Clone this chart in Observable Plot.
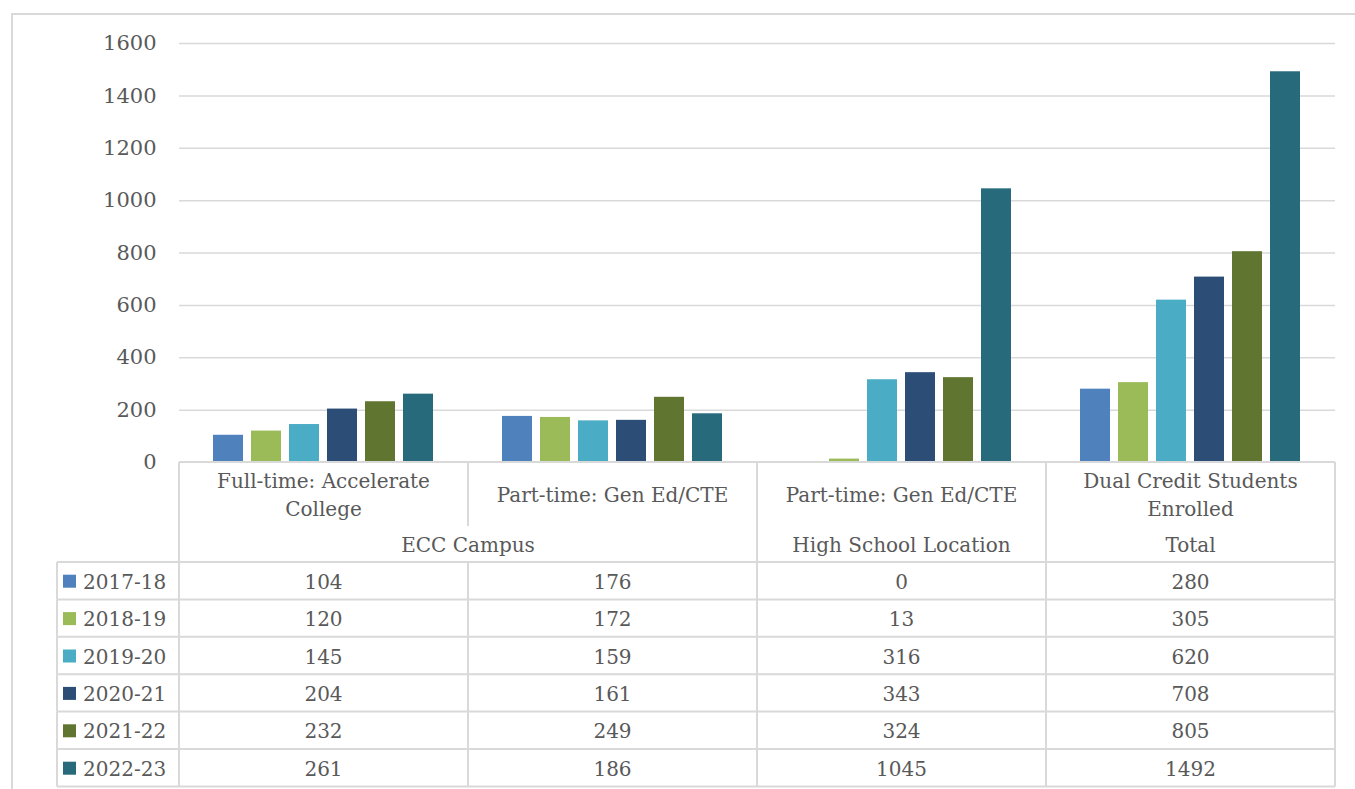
<!DOCTYPE html>
<html><head><meta charset="utf-8">
<script src="https://cdn.jsdelivr.net/npm/d3@7"></script>
<script src="https://cdn.jsdelivr.net/npm/@observablehq/plot@0.6"></script>
<style>
body{margin:0;background:#fff;}
#wrap{position:relative;width:1355px;height:789px;overflow:hidden;font-family:"DejaVu Serif",serif;}
#frame{position:absolute;left:11px;top:13px;width:1400px;height:800px;border-left:2px solid #d9d9d9;border-top:2px solid #d9d9d9;}
#chart{position:absolute;left:0;top:0;}
#table{position:absolute;left:0;top:0;}
</style></head><body>
<div id="wrap"><div id="frame"></div><div id="chart"></div><svg id="table" width="1355" height="789"></svg></div>
<script>
const categoryKeys = ["ecc-ft", "ecc-pt", "hs-pt", "total"];
const categoryLabels = [["Full-time: Accelerate", "College"], ["Part-time: Gen Ed/CTE"], ["Part-time: Gen Ed/CTE"], ["Dual Credit Students", "Enrolled"]];
const groupLabels = ["ECC Campus", "ECC Campus", "High School Location", "Total"];
const years = ["2017-18", "2018-19", "2019-20", "2020-21", "2021-22", "2022-23"];
const colors = ["#4F81BD", "#9BBB59", "#4BACC6", "#2C4D75", "#5F7530", "#276A7C"];
const v2017 = [104, 176, 0, 280];
const v2018 = [120, 172, 13, 305];
const v2019 = [145, 159, 316, 620];
const v2020 = [204, 161, 343, 708];
const v2021 = [232, 249, 324, 805];
const v2022 = [261, 186, 1045, 1492];
const seriesValues = [v2017, v2018, v2019, v2020, v2021, v2022];
const yTicks = [0, 200, 400, 600, 800, 1000, 1200, 1400, 1600];

const rows = [];
years.forEach((s, i) => categoryKeys.forEach((c, j) => rows.push({series: s, category: c, value: seriesValues[i][j]})));

const FONT = "DejaVu Serif";
const TXT = "#595959";
const LINE = "#d9d9d9";

const plot = Plot.plot({
  width: 1355, height: 472, marginTop: 43, marginBottom: 10, marginLeft: 178, marginRight: 19,
  style: {fontFamily: FONT, fontSize: "21px", color: TXT, background: "transparent", overflow: "visible"},
  fx: {domain: categoryKeys, padding: 0, axis: null},
  x: {domain: years, paddingInner: 0.2, paddingOuter: 0.825, axis: null},
  y: {domain: [0, 1600], axis: null, label: null},
  color: {domain: years, range: colors},
  marks: [
    Plot.gridY(yTicks.filter(d => d > 0), {stroke: LINE, strokeOpacity: 1, strokeWidth: 1.5}),
    Plot.barY(rows, {fx: "category", x: "series", y: "value", fill: "series"}),
    Plot.axisY(yTicks, {tickSize: 0, tickPadding: 23, fontSize: 21, fill: TXT, fontFamily: FONT, label: null, tickFormat: d => String(d)})
  ]
});
document.getElementById("chart").appendChild(plot);

// data table under the chart, columns aligned with the fx scale
const fx = plot.scale("fx");
const bw = fx.bandwidth;
const left = categoryKeys.map(k => fx.apply(k));
const x0 = left[0], x1 = left[left.length - 1] + bw;
const legendX = 57;
const top0 = 462, h1 = 526, h2 = 562, rowH = 37.4;

const svg = d3.select("#table");
const lines = svg.append("g").attr("stroke", LINE).attr("stroke-width", 2);
const hline = (y, a, b) => lines.append("line").attr("x1", a).attr("x2", b).attr("y1", y).attr("y2", y);
const vline = (x, a, b) => lines.append("line").attr("x1", x).attr("x2", x).attr("y1", a).attr("y2", b);

hline(top0, x0, x1);
left.forEach(x => vline(x, top0, h1));
vline(x1, top0, h1);
left.forEach((x, i) => { if (i === 0 || groupLabels[i] !== groupLabels[i - 1]) vline(x, h1, h2); });
vline(x1, h1, h2);
hline(h2, legendX, x1);
years.forEach((s, i) => {
  const ya = h2 + i * rowH, yb = ya + rowH;
  hline(yb, legendX, x1);
  vline(legendX, ya, yb);
  vline(x0, ya, yb);
  left.forEach(x => vline(x, ya, yb));
  vline(x1, ya, yb);
});

const text = svg.append("g").attr("font-family", FONT).attr("font-size", 20).attr("fill", TXT)
  .attr("text-anchor", "middle").attr("dominant-baseline", "central");

categoryLabels.forEach((lab, i) => {
  const cx = left[i] + bw / 2;
  const mid = (top0 + h1) / 2 + 1;
  lab.forEach((l, k) => {
    text.append("text").attr("x", cx).attr("y", mid + (k - (lab.length - 1) / 2) * 28).text(l);
  });
});
let i = 0;
while (i < groupLabels.length) {
  let j = i;
  while (j + 1 < groupLabels.length && groupLabels[j + 1] === groupLabels[i]) j++;
  const cx = (left[i] + left[j] + bw) / 2;
  text.append("text").attr("x", cx).attr("y", (h1 + h2) / 2 + 1).text(groupLabels[i]);
  i = j + 1;
}
years.forEach((s, r) => {
  const cy = h2 + r * rowH + rowH / 2 + 1;
  svg.append("rect").attr("x", 63).attr("y", cy - 7).attr("width", 13).attr("height", 13).attr("fill", colors[r]);
  text.append("text").attr("x", 83).attr("y", cy).attr("text-anchor", "start").text(s);
  seriesValues[r].forEach((v, c) => {
    text.append("text").attr("x", left[c] + bw / 2).attr("y", cy).text(v);
  });
});
</script>
</body></html>
